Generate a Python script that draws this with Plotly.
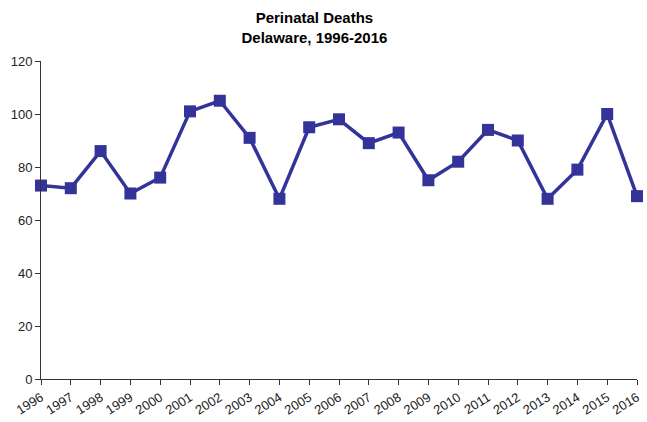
import plotly.graph_objects as go

years = [str(y) for y in range(1996, 2017)]
deaths = [73, 72, 86, 70, 76, 101, 105, 91, 68, 95, 98, 89, 93, 75, 82, 94, 90, 68, 79, 100, 69]
y_ticks = [0, 20, 40, 60, 80, 100, 120]

fig = go.Figure(go.Scatter(
    x=list(range(len(years))), y=deaths, mode="lines+markers",
    line=dict(color="#333399", width=3.5),
    marker=dict(symbol="square", size=12, color="#333399"),
    cliponaxis=False,
))

fig.update_layout(
    width=647, height=422,
    margin=dict(l=41, r=10, t=61, b=43, autoexpand=False),
    paper_bgcolor="white", plot_bgcolor="white",
    showlegend=False,
    font=dict(family="Liberation Sans, Arial", size=13, color="#222222"),
    title=dict(text="<b>Perinatal Deaths<br>Delaware, 1996-2016</b>",
               x=0.486, xanchor="center", y=0.945, yanchor="top",
               font=dict(size=15, color="black")),
)
fig.update_xaxes(
    range=[0, len(years) - 1], automargin=False,
    tickmode="array", tickvals=list(range(len(years))), ticktext=years,
    tickangle=-32, showgrid=False, zeroline=False,
    showline=True, linecolor="#333333", linewidth=1,
    ticks="outside", ticklen=5, tickcolor="#333333",
)
fig.update_yaxes(
    range=[0, 120], tickvals=y_ticks, showgrid=False, zeroline=False,
    automargin=False,
    showline=True, linecolor="#333333", linewidth=1,
    ticks="outside", ticklen=5, tickcolor="#333333",
)
fig.write_html("out.html", config={"displayModeBar": False},
               post_script="document.body.style.margin='0';document.body.style.overflow='hidden';")
